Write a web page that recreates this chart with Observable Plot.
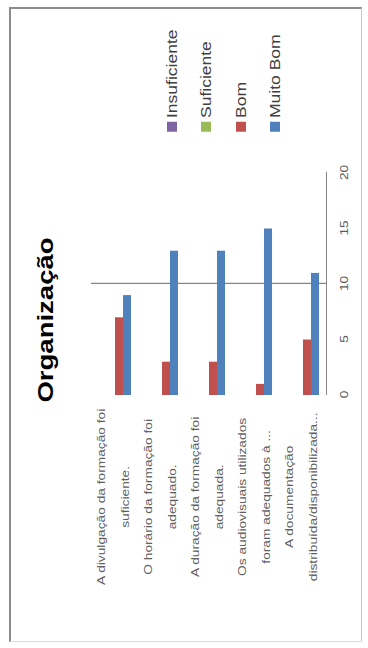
<!DOCTYPE html>
<html>
<head>
<meta charset="utf-8">
<script src="https://cdn.jsdelivr.net/npm/d3@7"></script>
<script src="https://cdn.jsdelivr.net/npm/@observablehq/plot@0.6"></script>
<style>
  html, body { margin: 0; padding: 0; background: #fff; }
  body { width: 368px; height: 648px; overflow: hidden; position: relative; font-family: "Liberation Sans", Arial, sans-serif; }
  #border { position: absolute; left: 9px; top: 7px; width: 353px; height: 635px;
            border-left: 2px solid #8c8c8c; border-top: 2px solid #8c8c8c;
            border-right: 1px solid #c8c8c8; border-bottom: 1px solid #dcdcdc; box-sizing: border-box; }
  /* the chart is laid out landscape, then turned a quarter turn counter-clockwise */
  #chart { position: absolute; left: 0; top: 0; width: 518.4px; height: 368px;
           transform-origin: 0 0; transform: translate(0, 648px) rotate(-90deg) scale(1.25, 1); }
  #chart svg { position: absolute; left: 0; top: 0; overflow: visible; }
  #title { position: absolute; left: 262.4px; top: 35px; transform: translateX(-50%);
           font: bold 22px "Liberation Sans", Arial, sans-serif; color: #000; white-space: nowrap; line-height: 22px; }
  #legend { position: absolute; left: 413px; top: 155px; }
  .item { display: flex; align-items: center; height: 34.3px; font-size: 14px; color: #404040; white-space: nowrap; }
  .sw { width: 8px; height: 10px; margin-right: 3px; }
</style>
</head>
<body>
<div id="border"></div>
<div id="chart"></div>
<script>
// Survey answers per statement (number of respondents)
const categories = [
  "A divulgação da formação foi suficiente.",
  "O horário da formação foi adequado.",
  "A duração da formação foi adequada.",
  "Os audiovisuais utilizados foram adequados à formação",
  "A documentação distribuída/disponibilizada"
];
const categoryLabels = [
  "A divulgação da formação foi\nsuficiente.",
  "O horário da formação foi\nadequado.",
  "A duração da formação foi\nadequada.",
  "Os audiovisuais utilizados\nforam adequados à ...",
  "A documentação\ndistribuída/disponibilizada..."
];
const series = ["Insuficiente", "Suficiente", "Bom", "Muito Bom"];
const colors = ["#8064A2", "#9BBB59", "#C0504D", "#4F81BD"];
const insuficiente = [0, 0, 0, 0, 0];
const suficiente = [0, 0, 0, 0, 0];
const bom = [7, 3, 3, 1, 5];
const muitoBom = [9, 13, 13, 15, 11];
const xTicks = [0, 5, 10, 15, 20];
const gridTicks = [10];
const title = "Organização";

const seriesValues = [insuficiente, suficiente, bom, muitoBom];
const rows = [];
categories.forEach((c, i) => {
  series.forEach((s, j) => rows.push({category: c, series: s, value: seriesValues[j][i]}));
});

const chart = Plot.plot({
  width: 518.4,
  height: 368,
  marginTop: 89,
  marginBottom: 40,
  marginLeft: 202.4,
  marginRight: 138.4,
  style: {fontFamily: "'Liberation Sans', Arial, sans-serif", background: "transparent", overflow: "visible"},
  x: {domain: [0, 20]},
  fy: {domain: categories, padding: 0},
  y: {domain: series, paddingInner: 0, paddingOuter: 0.75, axis: null},
  color: {domain: series, range: colors},
  marks: [
    Plot.ruleX(gridTicks, {stroke: "#868686", strokeWidth: 1}),
    Plot.barX(rows, {fy: "category", y: "series", x: "value", fill: "series", insetTop: 0, insetBottom: 0}),
    Plot.frame({anchor: "bottom", facetAnchor: "bottom", stroke: "#868686"}),
    Plot.axisX({ticks: xTicks, tickSize: 0, tickPadding: 14, fontSize: 11, fill: "#595959", label: null}),
    Plot.axisFy({anchor: "left", tickSize: 0, tickPadding: 82, textAnchor: "middle", lineAnchor: "middle",
                 lineHeight: 2.2, dy: -6, fontSize: 11, fill: "#606060", label: null,
                 tickFormat: d => categoryLabels[categories.indexOf(d)]})
  ]
});

const root = document.getElementById("chart");
root.appendChild(chart);

const t = document.createElement("div");
t.id = "title";
t.textContent = title;
root.appendChild(t);

const legend = d3.select(root).append("div").attr("id", "legend");
series.forEach((s, i) => {
  const item = legend.append("div").attr("class", "item");
  item.append("div").attr("class", "sw").style("background", colors[i]);
  item.append("span").text(s);
});
</script>
</body>
</html>
